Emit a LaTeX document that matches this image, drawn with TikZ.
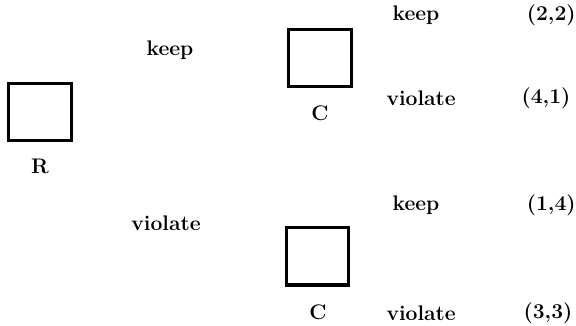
\documentclass[tikz,border=0pt]{standalone}
\usepackage{amsmath,amssymb}
\usepackage{xcolor}
\usepackage{tikz}

\begin{document}
\begin{tikzpicture} [line width=2.4pt, every node/.style={font=\fontsize{15}{17}\selectfont\bfseries},
        player/.style={draw, minimum width=1.56cm, minimum height=1.43cm, inner sep=0pt}]
        \useasboundingbox (0, 0) rectangle (14.4, 8.15);

        % the three decision boxes
        \node[player] (rbox) at (1, 5.35) {};
        \node[player] (cbox1) at (8, 6.7) {};
        \node[player] (cbox2) at (7.94, 1.74) {};

        \node (rlab) at (1, 4.0) {R};
        \node (clab1) at (8, 5.33) {C};
        \node (clab2) at (7.95, 0.35) {C};

        % moves of R
        \node (rkeep) at (4.25, 6.9) {keep};
        \node (rviol) at (4.15, 2.58) {violate};

        % moves of C and payoffs
        \node (ckeep1) at (10.4, 7.78) {keep};
        \node (cviol1) at (10.53, 5.7) {violate};
        \node (ckeep2) at (10.4, 3.03) {keep};
        \node (cviol2) at (10.53, 0.33) {violate};

        \node (pay1) at (13.78, 7.78) {(2,2)};
        \node (pay2) at (13.65, 5.7) {(4,1)};
        \node (pay3) at (13.78, 3.03) {(1,4)};
        \node (pay4) at (13.7, 0.33) {(3,3)};
\end{tikzpicture}
\end{document}
